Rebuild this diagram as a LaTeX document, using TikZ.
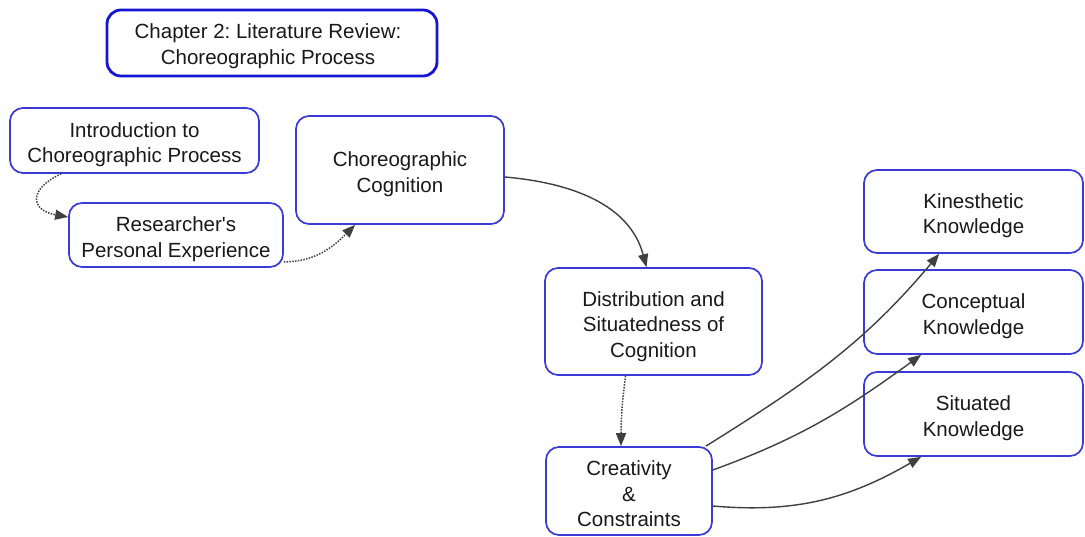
\documentclass[tikz,border=0pt]{standalone}
\usepackage{fontspec}
\setmainfont{Liberation Sans}
\usetikzlibrary{arrows.meta}
\definecolor{boxblue}{RGB}{58,58,214}
\definecolor{titleblue}{RGB}{20,20,210}
\definecolor{linkgray}{RGB}{64,64,64}
\definecolor{inkgray}{RGB}{25,25,25}
\frenchspacing
\begin{document}
\begin{tikzpicture}[x=1bp,y=-1bp,
  box/.style={draw=boxblue, line width=1.7bp, rounded corners=13bp, fill=white, inner sep=0pt},
  titlebox/.style={box, draw=titleblue, line width=2.8bp, rounded corners=14bp},
  txt/.style={font=\fontsize{20.5bp}{25.5bp}\selectfont, text=inkgray, align=center, inner sep=0pt},
  link/.style={draw=linkgray, line width=1.4bp, -{Triangle[length=13bp,width=10bp]}},
  dotlink/.style={link, line width=1.5bp, dash pattern=on 1.5bp off 1.3bp},
]
\fill[white] (0,0) rectangle (1085,537);
\useasboundingbox (0,0) rectangle (1085,537);

% boxes
\node[titlebox, minimum width=330bp, minimum height=66bp] (title) at (272,43) {};
\node[box, minimum width=249bp, minimum height=65bp] (intro) at (134.5,140.5) {};
\node[box, minimum width=214bp, minimum height=64bp] (research) at (176,235) {};
\node[box, minimum width=208bp, minimum height=108bp] (cog) at (400,170) {};
\node[box, minimum width=217bp, minimum height=107bp] (dist) at (653.5,321.5) {};
\node[box, minimum width=166bp, minimum height=88bp] (creat) at (629,491) {};
\node[box, minimum width=219bp, minimum height=83bp] (kin) at (973.5,211.5) {};
\node[box, minimum width=219bp, minimum height=84bp] (conc) at (973.5,312) {};
\node[box, minimum width=219bp, minimum height=84bp] (sit) at (973.5,414) {};

% box texts, set a little below each box centre
\node[txt] (title-t) at ([xshift=-4bp,yshift=-3bp]title.center) {Chapter 2: Literature Review:\\Choreographic Process};
\node[txt] (intro-t) at ([yshift=-4bp]intro.center) {Introduction to\\Choreographic Process};
\node[txt] (research-t) at ([yshift=-4bp]research.center) {Researcher\textquotesingle s\\Personal Experience};
\node[txt] (cog-t) at ([yshift=-4bp]cog.center) {Choreographic\\Cognition};
\node[txt] (dist-t) at ([yshift=-5bp]dist.center) {Distribution and\\Situatedness of\\Cognition};
\node[txt] (creat-t) at ([yshift=-3bp]creat.center) {Creativity\\\&\\Constraints};
\node[txt] (kin-t) at ([yshift=-4bp]kin.center) {Kinesthetic\\Knowledge};
\node[txt] (conc-t) at ([yshift=-4bp]conc.center) {Conceptual\\Knowledge};
\node[txt] (sit-t) at ([yshift=-4bp]sit.center) {Situated\\Knowledge};

% connectors
\draw[dotlink] ([xshift=52bp]intro.south west) to[out=205,in=170,looseness=2.2] ([yshift=18bp]research.west);
\draw[dotlink] ([yshift=6bp]research.south east) to[out=0,in=225] ([xshift=60bp]cog.south west);
\draw[link] ([yshift=-7bp]cog.east) to[out=-5,in=105] ([xshift=-7bp]dist.north);
\draw[dotlink] ([xshift=-28bp]dist.south) to[out=-97,in=90] ([xshift=-8bp]creat.north);
\draw[link] ([xshift=-7bp]creat.north east) to[out=32,in=230] ([xshift=76bp]kin.south west);
\draw[link] ([yshift=21bp]creat.east) to[out=20,in=216] ([xshift=58bp]conc.south west);
\draw[link] ([yshift=-15bp]creat.east) to[out=-5,in=210] ([xshift=58bp]sit.south west);
\end{tikzpicture}
\end{document}
